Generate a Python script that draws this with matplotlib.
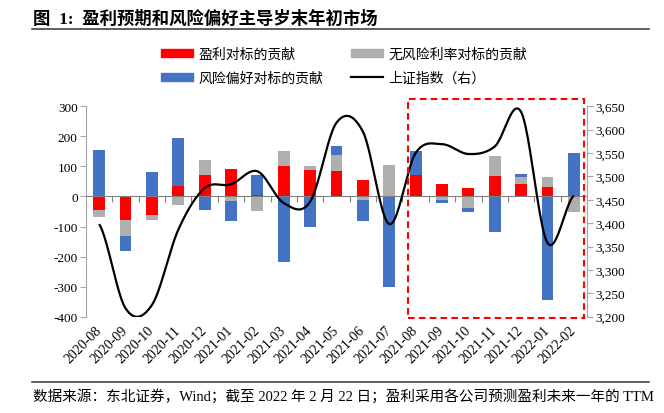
import numpy as np
import matplotlib
matplotlib.use('Agg')
import matplotlib.pyplot as plt
from matplotlib.patches import Rectangle, Patch
from matplotlib.lines import Line2D
import matplotlib.transforms as mtransforms
from matplotlib.ticker import FuncFormatter, FixedLocator

plt.rcParams['axes.unicode_minus'] = False

months = ['2020-08', '2020-09', '2020-10', '2020-11', '2020-12', '2021-01', '2021-02',
          '2021-03', '2021-04', '2021-05', '2021-06', '2021-07', '2021-08', '2021-09',
          '2021-10', '2021-11', '2021-12', '2022-01', '2022-02']
earnings = [-45, -79, -62, 36, 71, 90, 4, 100, 88, 84, 54, 0, 70, 43, 27, 67, 43, 31, 0]
riskfree = [-24, -52, -16, -30, 52, -14, -49, 50, 15, 53, -13, 106, -3, -12, -39, 67, 23, 34, -51]
riskapp = [153, -50, 81, 160, -44, -69, 68, -219, -100, 30, -68, -302, 80, -9, -11, -118, 10, -346, 144]
index_close = [3398, 3218, 3225, 3386, 3475, 3483, 3511, 3443, 3446, 3615, 3596, 3398,
               3550, 3569, 3548, 3564, 3638, 3358, 3459]

labels = ['盈利对标的贡献', '无风险利率对标的贡献', '风险偏好对标的贡献', '上证指数（右）']
colors = ['#FF0000', '#AFAFAF', '#4472C4']

SERIF = ['Liberation Serif', 'Noto Sans CJK SC']
CJK = ['Noto Sans CJK SC', 'DejaVu Sans']


def smooth(xv, yv, n=24):
    xv = np.asarray(xv, float)
    yv = np.asarray(yv, float)
    N = len(yv)
    m = np.zeros(N)
    for i in range(N):
        a = yv[i - 1] if i > 0 else yv[i]
        b = yv[i + 1] if i < N - 1 else yv[i]
        m[i] = (b - a) / 2.0
    xs, ys = [], []
    t = np.linspace(0, 1, n, endpoint=False)
    h00 = 2 * t**3 - 3 * t**2 + 1
    h10 = t**3 - 2 * t**2 + t
    h01 = -2 * t**3 + 3 * t**2
    h11 = t**3 - t**2
    for i in range(N - 1):
        xs.append(xv[i] + t * (xv[i + 1] - xv[i]))
        ys.append(h00 * yv[i] + h10 * m[i] + h01 * yv[i + 1] + h11 * m[i + 1])
    xs.append([xv[-1]])
    ys.append([yv[-1]])
    return np.concatenate(xs), np.concatenate(ys)


W, H = 664, 414
fig = plt.figure(figsize=(W / 100, H / 100), dpi=100)
L, R, T, B = 86, 587, 107.3, 317.7
ax = fig.add_axes([L / W, 1 - B / H, (R - L) / W, (B - T) / H])
ax2 = ax.twinx()

x = np.arange(len(months))
pos_base = np.zeros(len(x))
neg_base = np.zeros(len(x))
for vals, c in zip([earnings, riskfree, riskapp], colors):
    v = np.array(vals, float)
    bottom = np.where(v >= 0, pos_base, neg_base)
    ax.bar(x, v, 0.45, bottom=bottom, color=c, zorder=2, linewidth=0)
    pos_base += np.clip(v, 0, None)
    neg_base += np.clip(v, None, 0)

ax.set_xlim(-0.5, len(months) - 0.5)
ax.set_ylim(-400, 300)
ax.set_yticks(np.arange(-400, 301, 100))
ax.yaxis.set_major_formatter(FuncFormatter(lambda v, p: f'{v:.0f}'))

spine_c = '#A6A6A6'
for s in ['top', 'right']:
    ax.spines[s].set_visible(False)
ax.spines['left'].set_color(spine_c)
ax.spines['bottom'].set_position(('data', 0))
ax.spines['bottom'].set_color('#808080')
ax.spines['bottom'].set_zorder(3)
ax.xaxis.set_major_locator(FixedLocator(list(x[:-1] + 0.5)))
ax.xaxis.set_major_formatter(FuncFormatter(lambda v, p: ''))
ax.tick_params(axis='x', direction='out', length=4, color='#808080')
ax.tick_params(axis='y', direction='out', length=4, color=spine_c, pad=2, labelsize=9.5)
for lab in ax.get_yticklabels():
    lab.set_family(SERIF)

sec = ax.secondary_xaxis('bottom')
sec.set_xticks(x)
sec.set_xticklabels(months, rotation=45, ha='right', va='center', rotation_mode='anchor',
                    fontsize=10, family=SERIF)
sec.tick_params(length=0, pad=8)
sec.spines['bottom'].set_visible(False)

xs, ys = smooth(x, index_close)
ax2.plot(xs, ys, color='black', lw=1.6, zorder=4, solid_capstyle='butt')
ax2.set_ylim(3200, 3650)
ax2.set_yticks(np.arange(3200, 3651, 50))
ax2.yaxis.set_major_formatter(FuncFormatter(lambda v, p: f'{v:,.0f}'))
for s in ['top', 'left', 'bottom']:
    ax2.spines[s].set_visible(False)
ax2.spines['right'].set_color(spine_c)
ax2.tick_params(axis='y', direction='out', length=4, color=spine_c, pad=2, labelsize=9.5)
for lab in ax2.get_yticklabels():
    lab.set_family(SERIF)

# highlight box
trans = mtransforms.blended_transform_factory(ax2.transData, fig.transFigure)
box = Rectangle((11.73, 1 - 319 / H), 18.37 - 11.73, (319 - 100) / H, transform=trans,
                fill=False, edgecolor='#FF0000', lw=1.5, linestyle=(0, (3.2, 2)),
                clip_on=False, zorder=5)
ax2.add_patch(box)

# legend
handles = [Patch(color=colors[0]), Patch(color=colors[2]), Patch(color=colors[1]),
           Line2D([], [], color='black', lw=1.6)]
hl = [labels[0], labels[2], labels[1], labels[3]]
leg = fig.legend(handles, hl, ncol=2, loc='upper left',
                 bbox_to_anchor=(161 / W, 1 - 48 / H), frameon=False,
                 prop={'family': CJK, 'size': 10}, handlelength=2.3, handleheight=0.55,
                 handletextpad=0.4, columnspacing=2.0, labelspacing=0.72,
                 borderpad=0, borderaxespad=0)

# title and source
fig.text(33 / W, 1 - 19 / H, '图  1:  盈利预期和风险偏好主导岁末年初市场', fontsize=12.5,
         fontweight='bold', va='center', ha='left', family=SERIF)
fig.add_artist(Line2D([32 / W, 649 / W], [1 - 30 / H] * 2, transform=fig.transFigure,
                      color='#333333', lw=1.1))
fig.add_artist(Line2D([32 / W, 649 / W], [1 - 383 / H] * 2, transform=fig.transFigure,
                      color='#333333', lw=1.1))
fig.text(33 / W, 1 - 396 / H,
         '数据来源：东北证券，Wind；截至 2022 年 2 月 22 日；盈利采用各公司预测盈利未来一年的 TTM',
         fontsize=10.5, va='center', ha='left', family=SERIF)

fig.savefig('out.png', dpi=100)
